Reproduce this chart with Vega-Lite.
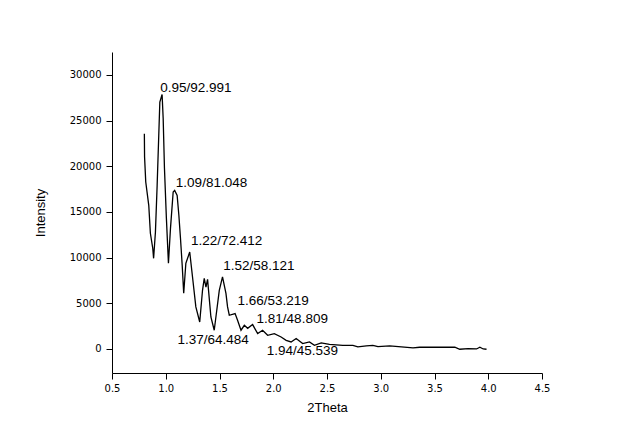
{
  "$schema": "https://vega.github.io/schema/vega-lite/v6.json",
  "width": 430,
  "height": 321,
  "autosize": {"type": "none"},
  "padding": {"left": 112, "top": 52, "right": 88, "bottom": 72},
  "background": "white",
  "config": {
    "view": {"stroke": null},
    "axis": {
      "grid": false,
      "domainColor": "black",
      "tickColor": "black",
      "labelColor": "black",
      "titleColor": "black",
      "labelFont": "DejaVu Sans",
      "labelFontSize": 10,
      "titleFont": "Liberation Sans",
      "titleFontSize": 13,
      "titleFontWeight": "normal"
    }
  },
  "datasets": {
    "curve": [
      {"t": 0.801, "v": 23565}, {"t": 0.803, "v": 21005}, {"t": 0.814, "v": 18270},
      {"t": 0.842, "v": 15720}, {"t": 0.857, "v": 12660}, {"t": 0.879, "v": 11020},
      {"t": 0.887, "v": 9920}, {"t": 0.904, "v": 12800}, {"t": 0.920, "v": 17910},
      {"t": 0.935, "v": 23380}, {"t": 0.945, "v": 27020}, {"t": 0.966, "v": 27850},
      {"t": 0.976, "v": 25240}, {"t": 0.988, "v": 19770}, {"t": 1.006, "v": 14300},
      {"t": 1.025, "v": 9380}, {"t": 1.044, "v": 13200}, {"t": 1.069, "v": 17180},
      {"t": 1.083, "v": 17360}, {"t": 1.106, "v": 16810}, {"t": 1.122, "v": 14630},
      {"t": 1.137, "v": 12110}, {"t": 1.153, "v": 9160}, {"t": 1.167, "v": 6090},
      {"t": 1.187, "v": 9380}, {"t": 1.223, "v": 10610}, {"t": 1.249, "v": 7880},
      {"t": 1.280, "v": 4600}, {"t": 1.316, "v": 2950}, {"t": 1.342, "v": 6420},
      {"t": 1.358, "v": 7730}, {"t": 1.374, "v": 6780}, {"t": 1.389, "v": 7620},
      {"t": 1.420, "v": 3500}, {"t": 1.451, "v": 2050}, {"t": 1.498, "v": 6420},
      {"t": 1.528, "v": 7880}, {"t": 1.560, "v": 6090}, {"t": 1.575, "v": 4600},
      {"t": 1.591, "v": 3690}, {"t": 1.645, "v": 3870}, {"t": 1.668, "v": 3140},
      {"t": 1.700, "v": 2050}, {"t": 1.731, "v": 2590}, {"t": 1.762, "v": 2260},
      {"t": 1.808, "v": 2670}, {"t": 1.855, "v": 1680}, {"t": 1.901, "v": 2050},
      {"t": 1.948, "v": 1500}, {"t": 2.010, "v": 1680}, {"t": 2.073, "v": 1310},
      {"t": 2.120, "v": 950}, {"t": 2.166, "v": 770}, {"t": 2.213, "v": 1140},
      {"t": 2.274, "v": 590}, {"t": 2.337, "v": 770}, {"t": 2.383, "v": 400},
      {"t": 2.446, "v": 660}, {"t": 2.523, "v": 510}, {"t": 2.647, "v": 400},
      {"t": 2.741, "v": 400}, {"t": 2.787, "v": 220}, {"t": 2.866, "v": 330},
      {"t": 2.927, "v": 400}, {"t": 2.974, "v": 260}, {"t": 3.083, "v": 330},
      {"t": 3.192, "v": 240}, {"t": 3.300, "v": 110}, {"t": 3.362, "v": 190},
      {"t": 3.689, "v": 190}, {"t": 3.735, "v": -30}, {"t": 3.813, "v": 40},
      {"t": 3.891, "v": 0}, {"t": 3.922, "v": 190}, {"t": 3.953, "v": 0},
      {"t": 3.984, "v": -30}
    ],
    "labels": [
      {"t": 0.948, "v": 28590, "label": "0.95/92.991"},
      {"t": 1.094, "v": 18190, "label": "1.09/81.048"},
      {"t": 1.234, "v": 11800, "label": "1.22/72.412"},
      {"t": 1.535, "v": 9090, "label": "1.52/58.121"},
      {"t": 1.668, "v": 5260, "label": "1.66/53.219"},
      {"t": 1.845, "v": 3250, "label": "1.81/48.809"},
      {"t": 1.109, "v": 950, "label": "1.37/64.484"},
      {"t": 1.939, "v": -220, "label": "1.94/45.539"}
    ]
  },
  "layer": [
    {
      "data": {"name": "curve"},
      "mark": {"type": "line", "color": "black", "strokeWidth": 1.3},
      "encoding": {
        "x": {
          "field": "t",
          "type": "quantitative",
          "scale": {"domain": [0.5, 4.5], "nice": false, "zero": false},
          "axis": {
            "title": "2Theta",
            "values": [0.5, 0.75, 1.0, 1.25, 1.5, 1.75, 2.0, 2.25, 2.5, 2.75, 3.0, 3.25, 3.5, 3.75, 4.0, 4.25, 4.5],
            "labelExpr": "(datum.value * 2) % 1 === 0 ? format(datum.value, '.1f') : ''",
            "tickSize": {"condition": {"test": "(datum.value * 2) % 1 === 0", "value": 6}, "value": 3},
            "labelPadding": 4,
            "titlePadding": 8,
            "labelFlush": false
          }
        },
        "y": {
          "field": "v",
          "type": "quantitative",
          "scale": {"domain": [-2630, 32500], "nice": false, "zero": false},
          "axis": {
            "title": "Intensity",
            "values": [0, 2500, 5000, 7500, 10000, 12500, 15000, 17500, 20000, 22500, 25000, 27500, 30000, 32500],
            "labelExpr": "datum.value % 5000 === 0 ? format(datum.value, 'd') : ''",
            "tickSize": {"condition": {"test": "datum.value % 5000 === 0", "value": 6}, "value": 3},
            "labelPadding": 5,
            "titlePadding": 22,
            "labelFlush": false
          }
        }
      }
    },
    {
      "data": {"name": "labels"},
      "mark": {"type": "text", "align": "left", "baseline": "middle", "font": "Liberation Sans", "fontSize": 13.5, "color": "black"},
      "encoding": {
        "x": {"field": "t", "type": "quantitative"},
        "y": {"field": "v", "type": "quantitative"},
        "text": {"field": "label"}
      }
    }
  ]
}
